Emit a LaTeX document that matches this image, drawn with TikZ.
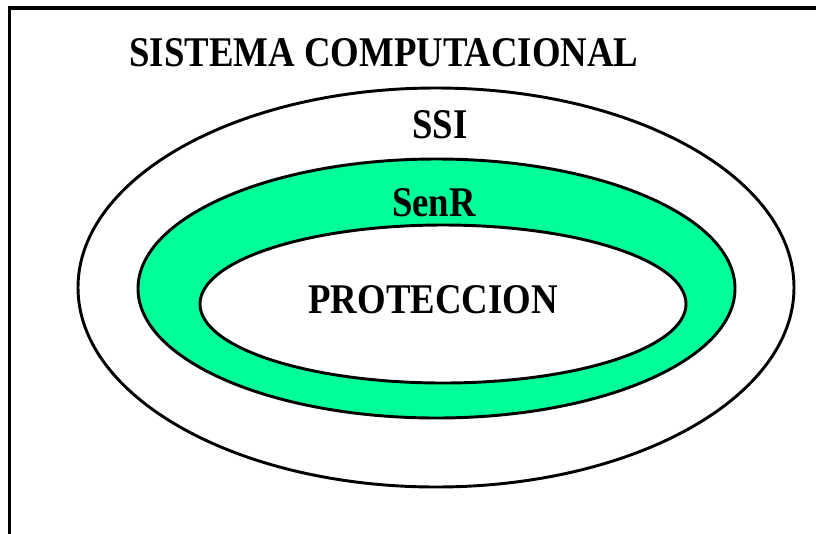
\documentclass[tikz,border=0pt]{standalone}
\usepackage{fontspec}
\setmainfont{Liberation Serif}
\definecolor{ringgreen}{RGB}{0,255,153}
\begin{document}
\begin{tikzpicture}[x=0.75pt,y=-0.75pt,
  ring/.style={draw=black,line width=2.2pt},
  lbl/.style={anchor=base,inner sep=0pt,font=\fontsize{31.7}{36}\selectfont\bfseries}]
\useasboundingbox (0,0) rectangle (816,533);
\fill[white] (0,0) rectangle (816,533);
\draw[line width=2.4pt,line cap=rect] (9.5,533) -- (9.5,8) -- (816,8);
\draw[ring,fill=white] (436,287.5) ellipse [x radius=358, y radius=199.5];
\draw[ring,fill=ringgreen] (436.5,288.5) ellipse [x radius=298.5, y radius=129.5];
\draw[ring,fill=white] (443,304) ellipse [x radius=243, y radius=79];
\node[lbl] (title) at (384,66) {\scalebox{0.87}[1]{SISTEMA COMPUTACIONAL}};
\node[lbl] (ssi) at (440,138) {\scalebox{0.87}[1]{SSI}};
\node[lbl] (senr) at (434,216) {\scalebox{0.87}[1]{SenR}};
\node[lbl] (prot) at (433,313) {\scalebox{0.87}[1]{PROTECCION}};
\end{tikzpicture}
\end{document}
